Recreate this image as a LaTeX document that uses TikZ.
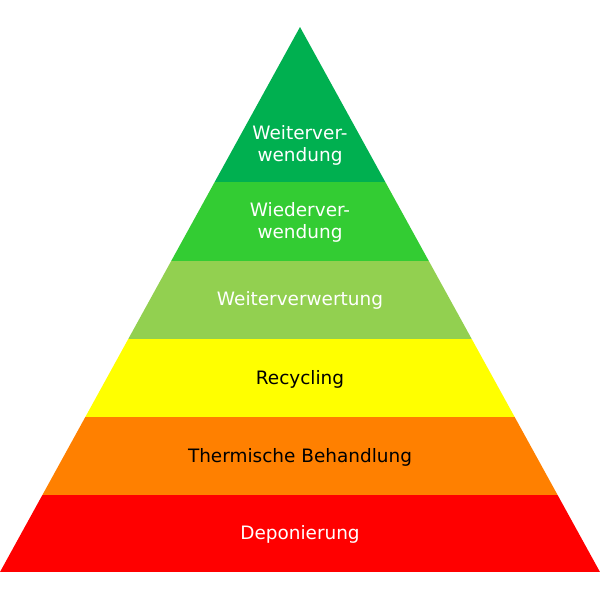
\documentclass[tikz,border=0pt]{standalone}
\usepackage{fontspec}
\setmainfont{DejaVu Sans}
\definecolor{lvlA}{HTML}{00B050}
\definecolor{lvlB}{HTML}{33CC33}
\definecolor{lvlC}{HTML}{92D050}
\definecolor{lvlD}{HTML}{FFFF00}
\definecolor{lvlE}{HTML}{FF8000}
\definecolor{lvlF}{HTML}{FF0000}
\tikzset{
  lvl/.style={font=\fontsize{10.5}{12.5}\selectfont, align=center, text=white},
  lvldark/.style={lvl, text=black}
}
\begin{document}
\begin{tikzpicture}[x=0.02cm, y=-0.02cm]
  \useasboundingbox (0,0) rectangle (600,600);
  \coordinate (apex) at (300,27);
  \coordinate (bl) at (0,572);
  \coordinate (br) at (600,572);
  \begin{scope}
    \clip (apex) -- (br) -- (bl) -- cycle;
    \foreach \ya/\yb/\col in {0/182/lvlA, 182/261/lvlB, 261/339/lvlC, 339/417/lvlD, 417/495/lvlE, 495/572/lvlF}
      \fill[\col] (0,\ya) rectangle (600,\yb);
  \end{scope}
  % labels
  \node[lvl] (weiter) at (300,145) {Weiterver-\\wendung};
  \node[lvl] (wieder) at (300,222) {Wiederver-\\wendung};
  \node[lvl] (verwert) at (300,300) {Weiterverwertung};
  \node[lvldark] (recyc) at (300,379) {Recycling};
  \node[lvldark] (therm) at (300,457) {Thermische Behandlung};
  \node[lvl] (depon) at (300,534) {Deponierung};
\end{tikzpicture}
\end{document}
